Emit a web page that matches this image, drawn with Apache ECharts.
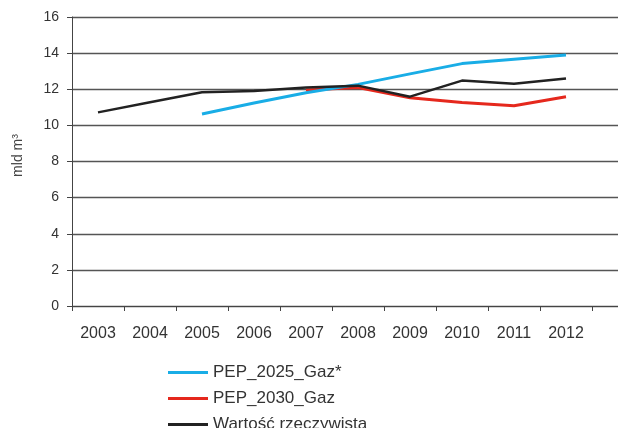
<!DOCTYPE html>
<html><head><meta charset="utf-8">
<script src="https://cdn.jsdelivr.net/npm/echarts@6/dist/echarts.min.js"></script>
<style>html,body{margin:0;padding:0;background:#fff}#c{width:618px;height:428px}</style>
</head><body><div id="c"></div>
<script>
const years = ['2003','2004','2005','2006','2007','2008','2009','2010','2011','2012'];
const pep2025 = [null, null, 10.63, 11.24, 11.81, 12.27, 12.85, 13.42, 13.66, 13.9];
const pep2030 = [null, null, null, null, 11.96, 12.09, 11.53, 11.26, 11.09, 11.59];
const actual = [10.72, 11.28, 11.83, 11.9, 12.1, 12.2, 11.59, 12.48, 12.3, 12.6];
const yTicks = {min: 0, max: 16, interval: 2};
const seriesNames = ['PEP_2025_Gaz*', 'PEP_2030_Gaz', 'Wartość rzeczywista'];

const font = 'Liberation Sans, Arial, sans-serif';
const chart = echarts.init(document.getElementById('c'), null, {renderer: 'canvas'});
chart.setOption({
  animation: false,
  backgroundColor: '#fff',
  grid: {left: 72, top: 17, width: 572, height: 289, containLabel: false, outerBoundsMode: 'none'},
  legend: {
    orient: 'vertical', left: 168, top: 364, height: 90, padding: 0,
    itemWidth: 40, itemHeight: 3, itemGap: 9,
    icon: 'rect',
    textStyle: {fontFamily: font, fontSize: 17, color: '#333'},
    data: seriesNames
  },
  xAxis: {
    type: 'category', data: years.concat(['']), boundaryGap: true,
    axisLine: {lineStyle: {color: '#444', width: 1}},
    axisTick: {show: true, length: 5, lineStyle: {color: '#444'}},
    axisLabel: {fontFamily: font, fontSize: 16, color: '#333', margin: 20}
  },
  yAxis: {
    type: 'value', min: yTicks.min, max: yTicks.max, interval: yTicks.interval,
    name: 'mld m³', nameLocation: 'middle', nameGap: 47,
    nameTextStyle: {fontFamily: font, fontSize: 14, color: '#444', padding: [0, 0, 0, 12]},
    axisLine: {show: true, lineStyle: {color: '#444', width: 1}},
    axisTick: {show: true, length: 5, lineStyle: {color: '#444'}},
    axisLabel: {fontFamily: font, fontSize: 14, color: '#333', margin: 13},
    splitLine: {lineStyle: {color: '#555', width: 1.4}}
  },
  series: [
    {name: seriesNames[0], type: 'line', data: pep2025, symbol: 'none', color: '#19ade6',
     lineStyle: {width: 3, color: '#19ade6'}, z: 3},
    {name: seriesNames[1], type: 'line', data: pep2030, symbol: 'none', color: '#e5281d',
     lineStyle: {width: 3, color: '#e5281d'}, z: 2},
    {name: seriesNames[2], type: 'line', data: actual, symbol: 'none', color: '#222',
     lineStyle: {width: 2.5, color: '#222'}, z: 4}
  ]
});
</script></body></html>
